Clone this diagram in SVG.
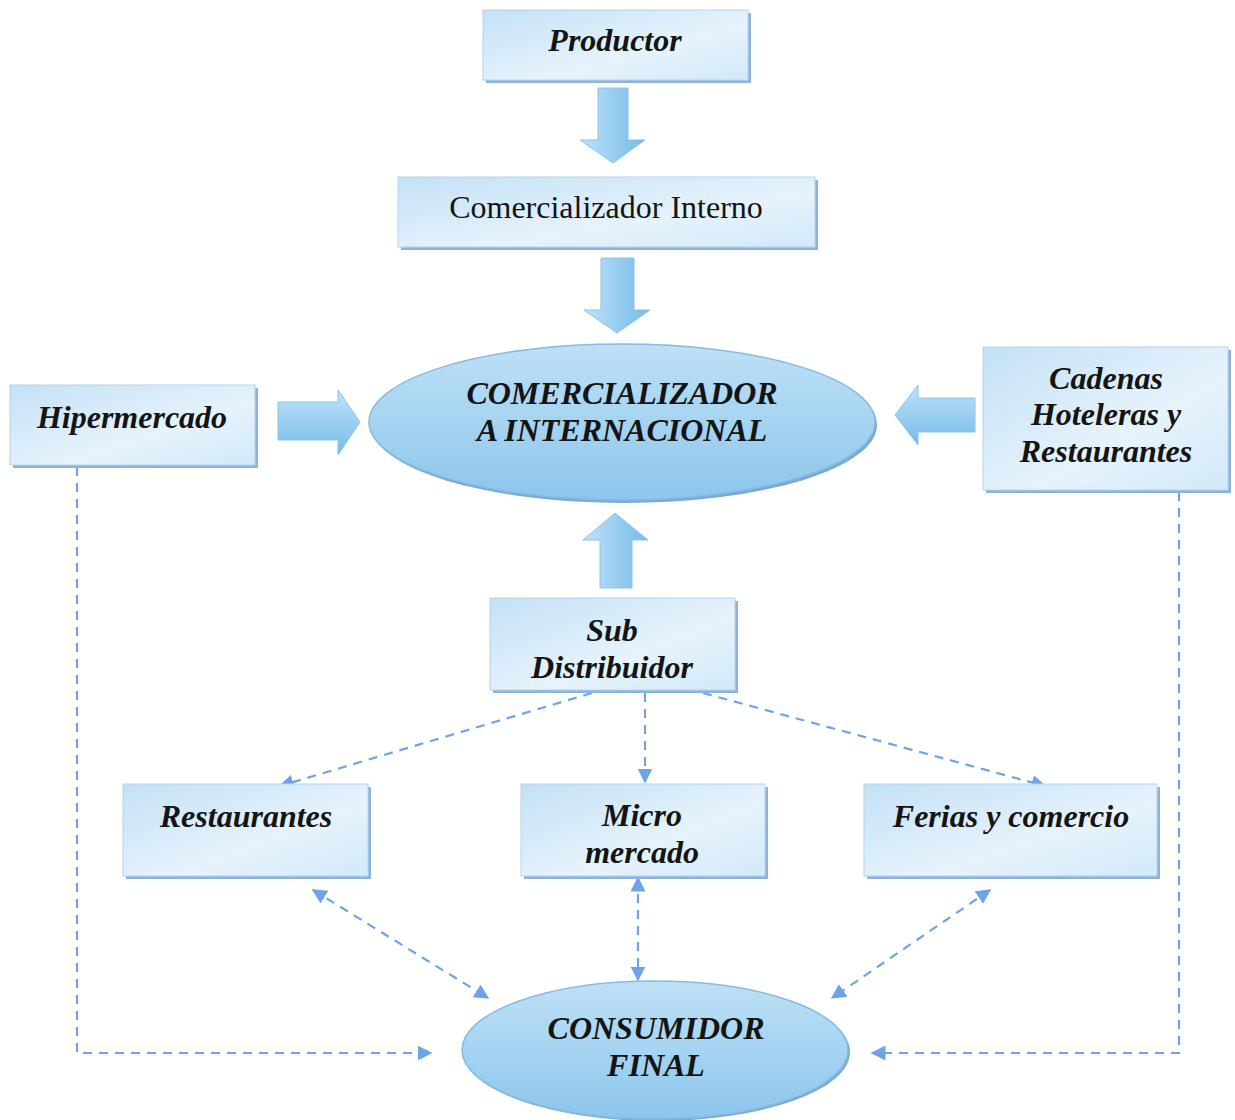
<svg xmlns="http://www.w3.org/2000/svg" width="1235" height="1120" viewBox="0 0 1235 1120">
<defs>
<linearGradient id="boxg" x1="0" y1="0" x2="1" y2="1">
<stop offset="0" stop-color="#c4e1f6"/>
<stop offset="0.6" stop-color="#e6f3fc"/>
<stop offset="1" stop-color="#d2e9f9"/>
</linearGradient>
<linearGradient id="arrg" x1="0" y1="0" x2="1" y2="0">
<stop offset="0" stop-color="#bfe2f8"/>
<stop offset="1" stop-color="#74bbea"/>
</linearGradient>
<linearGradient id="arrgv" x1="0" y1="0" x2="0" y2="1">
<stop offset="0" stop-color="#bfe2f8"/>
<stop offset="1" stop-color="#74bbea"/>
</linearGradient>
<linearGradient id="ellg" x1="0" y1="0" x2="0" y2="1">
<stop offset="0" stop-color="#bde0f6"/>
<stop offset="0.5" stop-color="#a6d4f1"/>
<stop offset="1" stop-color="#8cc5ec"/>
</linearGradient>
<marker id="ahb" viewBox="0 0 10 10" refX="9" refY="5" markerWidth="15" markerHeight="15" orient="auto-start-reverse" markerUnits="userSpaceOnUse">
<path d="M0,0 L10,5 L0,10 Z" fill="#6ea3ea"/>
</marker>
</defs>
<style>
.box{fill:url(#boxg);stroke:#b4d4ee;stroke-width:1}
.sh{fill:#8eb2da}
.ell{fill:url(#ellg);stroke:#85bbe2;stroke-width:1.5}
.ellsh{fill:#7aa9d6}
.t{font-family:"Liberation Serif","Times New Roman",serif;font-weight:bold;font-style:italic;font-size:32px;fill:#141414;text-anchor:middle}
.tr{font-family:"Liberation Serif","Times New Roman",serif;font-size:32px;fill:#141414;text-anchor:middle}
.blk{fill:url(#arrg);stroke:#8cc3ea;stroke-width:1}
.blkv{fill:url(#arrgv);stroke:#8cc3ea;stroke-width:1}
.dash{fill:none;stroke:#6ea3ea;stroke-width:2.2;stroke-dasharray:9,7}
</style>
<rect width="1235" height="1120" fill="#ffffff"/>

<g id="connectors">
<path class="blk" d="M598,88 H628 V140 H645 L613,163 L580,140 H598 Z"/>
<path class="blk" d="M601,258 H634 V310 H650 L617,333 L584,310 H601 Z"/>
<path class="blkv" d="M278,402 H338 V390 L360,422 L338,455 V440 H278 Z"/>
<path class="blkv" d="M975,398 H918 V385 L895,415 L918,445 V432 H975 Z"/>
<path class="blk" d="M600,588 V540 H583 L615,513 L648,540 H632 V588 Z"/>
<line class="dash" x1="592" y1="693" x2="280" y2="786" marker-end="url(#ahb)"/>
<line class="dash" x1="645" y1="693" x2="645" y2="782" marker-end="url(#ahb)"/>
<line class="dash" x1="703" y1="693" x2="1045" y2="786" marker-end="url(#ahb)"/>
<line class="dash" x1="313" y1="890" x2="488" y2="998" marker-start="url(#ahb)" marker-end="url(#ahb)"/>
<line class="dash" x1="638" y1="878" x2="638" y2="980" marker-start="url(#ahb)" marker-end="url(#ahb)"/>
<line class="dash" x1="990" y1="890" x2="832" y2="998" marker-start="url(#ahb)" marker-end="url(#ahb)"/>
<polyline class="dash" points="77,467 77,1053 431,1053" marker-end="url(#ahb)"/>
<polyline class="dash" points="1179,492 1179,1053 872,1053" marker-end="url(#ahb)"/>
</g>

<g id="productor">
<rect class="sh" x="486" y="13" width="265" height="70"/>
<rect class="box" x="483" y="10" width="265" height="70"/>
<text class="t" x="615" y="51">Productor</text>
</g>

<g id="comercializador-interno">
<rect class="sh" x="401" y="180" width="417" height="70"/>
<rect class="box" x="398" y="177" width="417" height="70"/>
<text class="tr" x="606" y="218">Comercializador Interno</text>
</g>

<g id="comercializador-internacional">
<ellipse class="ellsh" cx="624" cy="425" rx="253" ry="78"/>
<ellipse class="ell" cx="622" cy="422" rx="253" ry="78"/>
<text class="t" x="622" y="404">COMERCIALIZADOR</text>
<text class="t" x="622" y="441">A INTERNACIONAL</text>
</g>

<g id="hipermercado">
<rect class="sh" x="13" y="388" width="245" height="80"/>
<rect class="box" x="10" y="385" width="245" height="80"/>
<text class="t" x="132" y="428">Hipermercado</text>
</g>

<g id="cadenas">
<rect class="sh" x="986" y="350" width="245" height="143"/>
<rect class="box" x="983" y="347" width="245" height="143"/>
<text class="t" x="1106" y="389">Cadenas</text>
<text class="t" x="1106" y="425">Hoteleras y</text>
<text class="t" x="1106" y="462">Restaurantes</text>
</g>

<g id="sub-distribuidor">
<rect class="sh" x="493" y="601" width="245" height="92"/>
<rect class="box" x="490" y="598" width="245" height="92"/>
<text class="t" x="612" y="641">Sub</text>
<text class="t" x="612" y="678">Distribuidor</text>
</g>

<g id="restaurantes">
<rect class="sh" x="126" y="787" width="245" height="92"/>
<rect class="box" x="123" y="784" width="245" height="92"/>
<text class="t" x="246" y="827">Restaurantes</text>
</g>

<g id="micro-mercado">
<rect class="sh" x="524" y="787" width="244" height="92"/>
<rect class="box" x="521" y="784" width="244" height="92"/>
<text class="t" x="642" y="826">Micro</text>
<text class="t" x="642" y="863">mercado</text>
</g>

<g id="ferias">
<rect class="sh" x="867" y="787" width="293" height="92"/>
<rect class="box" x="864" y="784" width="293" height="92"/>
<text class="t" x="1011" y="827">Ferias y comercio</text>
</g>

<g id="consumidor-final">
<ellipse class="ellsh" cx="657" cy="1052" rx="193" ry="69"/>
<ellipse class="ell" cx="655" cy="1050" rx="193" ry="69"/>
<text class="t" x="656" y="1039">CONSUMIDOR</text>
<text class="t" x="656" y="1076">FINAL</text>
</g>
</svg>
